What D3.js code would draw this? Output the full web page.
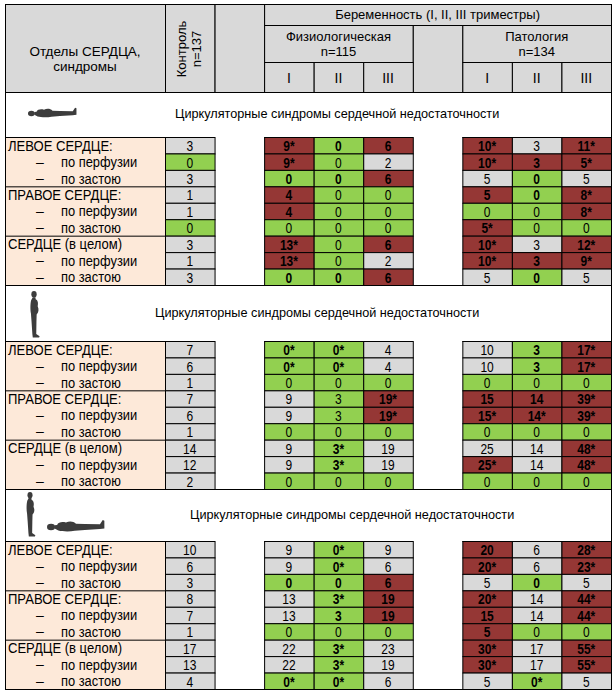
<!DOCTYPE html>
<html>
<head>
<meta charset="utf-8">
<script src="https://cdnjs.cloudflare.com/ajax/libs/d3/7.8.5/d3.min.js"></script>
<style>
  body { margin: 0; background: #fff; }
  svg { display: block; }
  text { font-family: 'Liberation Sans', Arial, sans-serif; fill: #000; }
</style>
</head>
<body>
<svg id="canvas"></svg>
<script>
const columnKeys = ['ctrl', 'gap1', 'f1', 'f2', 'f3', 'gap2', 'p1', 'p2', 'p3'];
const dataColumns = ['ctrl', 'f1', 'f2', 'f3', 'p1', 'p2', 'p3'];
const trimesterLabels = ['I', 'II', 'III'];

const rowLabels = [
  'ЛЕВОЕ СЕРДЦЕ:', 'по перфузии', 'по застою',
  'ПРАВОЕ СЕРДЦЕ:', 'по перфузии', 'по застою',
  'СЕРДЦЕ (в целом)', 'по перфузии', 'по застою'
];
const rowIsSub = [false, true, true, false, true, true, false, true, true];

const bannerTitle = 'Циркуляторные синдромы сердечной недостаточности';
const postures = ['lying', 'standing', 'both'];

// values per posture: columns = Контроль, Физ I, II, III, Пат I, II, III
const valuesLying = [
  ['3', '9*', '0', '6', '10*', '3', '11*'],
  ['0', '9*', '0', '2', '10*', '3', '5*'],
  ['3', '0', '0', '6', '5', '0', '5'],
  ['1', '4', '0', '0', '5', '0', '8*'],
  ['1', '4', '0', '0', '0', '0', '8*'],
  ['0', '0', '0', '0', '5*', '0', '0'],
  ['3', '13*', '0', '6', '10*', '3', '12*'],
  ['1', '13*', '0', '2', '10*', '3', '9*'],
  ['3', '0', '0', '6', '5', '0', '5']
];
const valuesStanding = [
  ['7', '0*', '0*', '4', '10', '3', '17*'],
  ['6', '0*', '0*', '4', '10', '3', '17*'],
  ['1', '0', '0', '0', '0', '0', '0'],
  ['7', '9', '3', '19*', '15', '14', '39*'],
  ['6', '9', '3', '19*', '15*', '14*', '39*'],
  ['1', '0', '0', '0', '0', '0', '0'],
  ['14', '9', '3*', '19', '25', '14', '48*'],
  ['12', '9', '3*', '19', '25*', '14', '48*'],
  ['2', '0', '0', '0', '0', '0', '0']
];
const valuesBoth = [
  ['10', '9', '0*', '9', '20', '6', '28*'],
  ['6', '9', '0*', '6', '20*', '6', '23*'],
  ['3', '0', '0', '6', '5', '0', '5'],
  ['8', '13', '3*', '19', '20*', '14', '44*'],
  ['7', '13', '3', '19', '15', '14', '44*'],
  ['1', '0', '0', '0', '5', '0', '0'],
  ['17', '22', '3*', '23', '30*', '17', '55*'],
  ['13', '22', '3*', '19', '30*', '17', '55*'],
  ['4', '0*', '0*', '6', '5', '0*', '5']
];

// cell status: R = raised (red), G = lowered, marked; g = lowered; n = neutral
const statusLying = [
  'nRGRRnR', 'gRgnRRR', 'nGGRnGn',
  'nRggRGR', 'nRggggR', 'ggggRgg',
  'nRgRRnR', 'nRgnRRR', 'nGGRnGn'
];
const statusStanding = [
  'nGGnnGR', 'nGGnnGR', 'ngggggg',
  'nngRRRR', 'nngRRRR', 'ngggggg',
  'nnGnnnR', 'nnGnRnR', 'ngggggg'
];
const statusBoth = [
  'nnGnRnR', 'nnGnRnR', 'nGGRnGn',
  'nnGRRnR', 'nnGRRnR', 'ngggRgg',
  'nnGnRnR', 'nnGnRnR', 'nGGnnGn'
];

const sectionValues = [valuesLying, valuesStanding, valuesBoth];
const sectionStatus = [statusLying, statusStanding, statusBoth];

// ---- layout ----
const svgWidth = 613;
const svgHeight = 696;
const tableLeft = 5;
const tableRight = 611;
const tableTop = 4;
const labelRight = 165;
const headerRows = [tableTop, 25, 62, 92];
const sections = [
  { banner: [92, 137], block: [137, 285], textX: 175 },
  { banner: [285, 341], block: [341, 489], textX: 155 },
  { banner: [489, 541], block: [541, 689], textX: 190 }
];

const colors = {
  R: '#953735',
  G: '#92d050',
  g: '#92d050',
  n: '#d9d9d9',
  header: '#d9d9d9',
  label: '#fde9d9',
  line: '#000',
  figure: '#3c3c3c'
};

const svg = d3.select('#canvas')
  .attr('width', svgWidth)
  .attr('height', svgHeight);

svg.append('rect')
  .attr('width', svgWidth)
  .attr('height', svgHeight)
  .attr('fill', '#fff');

const x = d3.scaleBand()
  .domain(columnKeys)
  .range([labelRight, tableRight]);

function cell(x0, y0, x1, y1, fill) {
  svg.append('rect')
    .attr('x', x0 + 0.5)
    .attr('y', y0 + 0.5)
    .attr('width', x1 - x0)
    .attr('height', y1 - y0)
    .attr('fill', fill)
    .attr('stroke', colors.line)
    .attr('stroke-width', 1);
}

function label(txt, cx, cy, opts = {}) {
  const sx = opts.scaleX || 1;
  return svg.append('text')
    .attr('transform', `translate(${cx},${cy}) scale(${sx},1)` + (opts.rotate ? ` rotate(${opts.rotate})` : ''))
    .attr('text-anchor', opts.anchor || 'middle')
    .attr('dy', '0.36em')
    .attr('font-size', (opts.size || 13) + 'px')
    .attr('font-weight', opts.bold ? 'bold' : 'normal')
    .attr('fill', opts.color || '#000')
    .text(txt);
}

// ---- header ----
const hTop = headerRows[0];
const hBottom = headerRows[3];
const fizLeft = x('f1');
const fizRight = x('f3') + x.bandwidth();
const patLeft = x('p1');
const patRight = x('p3') + x.bandwidth();

cell(tableLeft, hTop, labelRight, hBottom, colors.header);
cell(x('ctrl'), hTop, x('ctrl') + x.bandwidth(), hBottom, colors.header);
cell(x('gap1'), hTop, x('gap1') + x.bandwidth(), hBottom, colors.header);
cell(fizLeft, hTop, patRight, headerRows[1], colors.header);
cell(fizLeft, headerRows[1], fizRight, headerRows[2], colors.header);
cell(x('gap2'), headerRows[1], x('gap2') + x.bandwidth(), hBottom, colors.header);
cell(patLeft, headerRows[1], patRight, headerRows[2], colors.header);
['f1', 'f2', 'f3', 'p1', 'p2', 'p3'].forEach((k, i) => {
  cell(x(k), headerRows[2], x(k) + x.bandwidth(), hBottom, colors.header);
  label(trimesterLabels[i % 3], x(k) + x.bandwidth() / 2, (headerRows[2] + hBottom) / 2 + 1, { size: 14 });
});

label('Отделы СЕРДЦА,', (tableLeft + labelRight) / 2, 51, { size: 13.5 });
label('синдромы', (tableLeft + labelRight) / 2, 66, { size: 13.5 });
label('Контроль', x('ctrl') + 16, 49, { size: 13, rotate: -90 });
label('n=137', x('ctrl') + 31, 49, { size: 13, rotate: -90 });
label('Беременность (I, II, III триместры)', (fizLeft + patRight) / 2, 14.5, { size: 13 });
label('Физиологическая', (fizLeft + fizRight) / 2, 36, { size: 13 });
label('n=115', (fizLeft + fizRight) / 2, 51, { size: 13 });
label('Патология', (patLeft + patRight) / 2, 36, { size: 13 });
label('n=134', (patLeft + patRight) / 2, 51, { size: 13 });

// ---- human silhouettes ----
// standing figure, 46 units tall, origin at top of head
function figure(g) {
  g.append('ellipse').attr('cx', 0).attr('cy', 3.2).attr('rx', 2.6).attr('ry', 3.2);
  g.append('path').attr('d', 'M-1.2,6 L1.4,6 L1.6,8 C4,9 4.2,12 3.6,15 C5,18 4.6,21 2.6,23 L2.4,30 L2.2,42 L5.5,44.2 L5,45.5 L-1.2,45.5 L-1.6,42 L-2.4,30 L-3,22 C-3.8,18 -3.6,12 -2.8,9 Z');
  g.attr('fill', colors.figure);
}
function drawFigure(type, cx, cy, length) {
  const s = length / 46;
  const g = svg.append('g');
  if (type === 'standing') {
    g.attr('transform', `translate(${cx},${cy}) scale(${s})`);
  } else {
    g.attr('transform', `translate(${cx},${cy}) rotate(-90) scale(${s})`);
  }
  figure(g);
}

// ---- sections ----
sections.forEach((sec, si) => {
  const [bTop, bBottom] = sec.banner;
  cell(tableLeft, bTop, tableRight, bBottom, '#fff');
  const bMid = (bTop + bBottom) / 2;
  label(bannerTitle, sec.textX, bMid - 1, { size: 12.7, anchor: 'start' });

  const posture = postures[si];
  if (posture === 'lying') {
    drawFigure('lying', 28, bMid - 1, 49);
  } else if (posture === 'standing') {
    drawFigure('standing', 34, bTop + 6, 47);
  } else {
    drawFigure('standing', 30, bTop + 3, 45);
    drawFigure('lying', 47, bBottom - 14, 58);
  }

  const [kTop, kBottom] = sec.block;
  const y = d3.scaleBand().domain(d3.range(rowLabels.length)).range([kTop, kBottom]);

  // label column: peach, lines only between groups
  cell(tableLeft, kTop, labelRight, kBottom, colors.label);
  [3, 6].forEach(r => {
    svg.append('line')
      .attr('x1', tableLeft).attr('x2', labelRight)
      .attr('y1', y(r) + 0.5).attr('y2', y(r) + 0.5)
      .attr('stroke', colors.line);
  });
  rowLabels.forEach((txt, r) => {
    const cy = y(r) + y.bandwidth() / 2;
    if (rowIsSub[r]) {
      label('–', 40, cy, { size: 14 });
      label(txt, 61, cy, { size: 15, anchor: 'start', scaleX: 0.86 });
    } else {
      label(txt, 8, cy, { size: 15, anchor: 'start', scaleX: 0.87 });
    }
  });

  // blank gap columns keep white
  ['gap1', 'gap2'].forEach(k => {
    svg.append('rect')
      .attr('x', x(k)).attr('y', kTop)
      .attr('width', x.bandwidth()).attr('height', kBottom - kTop)
      .attr('fill', '#fff');
  });

  const values = sectionValues[si];
  const status = sectionStatus[si];
  values.forEach((row, r) => {
    row.forEach((v, c) => {
      const k = dataColumns[c];
      const st = status[r][c];
      cell(x(k), y(r), x(k) + x.bandwidth(), y(r) + y.bandwidth(), colors[st]);
      label(v, x(k) + x.bandwidth() / 2, y(r) + y.bandwidth() / 2 + 0.5, {
        size: 15,
        scaleX: 0.8,
        bold: st === 'R' || st === 'G',
        color: st === 'R' ? '#fff' : '#000'
      });
    });
  });
});

// outer frame
svg.append('rect')
  .attr('x', tableLeft + 0.5)
  .attr('y', tableTop + 0.5)
  .attr('width', tableRight - tableLeft)
  .attr('height', sections[2].block[1] - tableTop)
  .attr('fill', 'none')
  .attr('stroke', colors.line)
  .attr('stroke-width', 1);
</script>
</body>
</html>
